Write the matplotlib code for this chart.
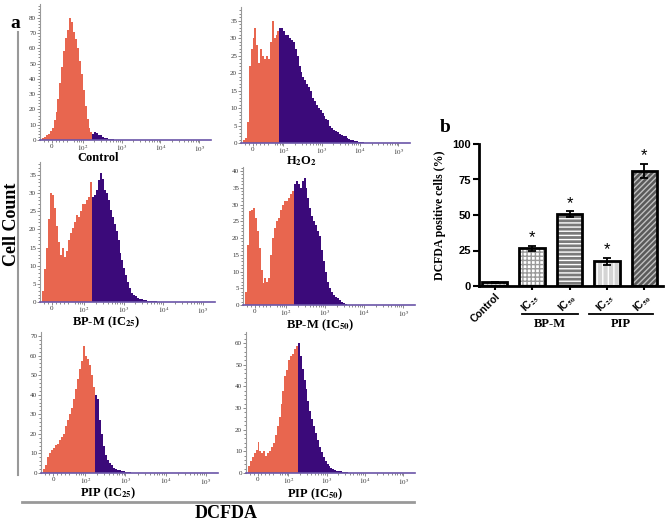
import numpy as np
import matplotlib.pyplot as plt

plt.rcParams['font.family'] = ['Liberation Serif', 'DejaVu Serif']
plt.rcParams['mathtext.fontset'] = 'stix'
plt.rcParams['hatch.linewidth'] = 1.0

# histogram counts, one value per bin; bins are 0.05 decade wide on the
# biexponential DCFDA axis, first bin starts 0.25 decade below zero
control = [1, 2, 3, 4, 6, 8, 13, 18, 27, 37, 48, 58, 67, 72, 80, 77, 71, 66,
           60, 52, 43, 33, 22, 14, 8, 5, 4, 5, 4.5, 3.5, 3, 2, 1.5, 1, 0.8,
           0.5, 0.4, 0.3, 0.3, 0.2, 0.2, 0.1]
h2o2 = [1, 1.5, 6, 22, 27, 30, 33, 28, 23, 27, 25, 24, 25, 24, 29, 35, 30, 31,
        32, 33, 33, 32, 31, 31, 30, 29.5, 29, 27, 25, 22, 20.5, 19, 18, 17,
        16, 15, 13, 12, 11, 10, 9.5, 8.5, 7.6, 7, 6.5, 5, 4.3, 3.8, 3.4, 3.2,
        2.6, 2.3, 2.1, 1.9, 1.5, 1.2, 1, 0.8, 0.6, 0.45, 0.35, 0.25, 0.15,
        0.1, 0.1]
bpm_ic25 = [3, 9, 15, 23, 30, 29.5, 26, 21, 16.5, 13, 15, 12.5, 14, 17, 19,
            20.5, 22, 24, 23.5, 25, 27, 27, 28, 29, 33, 29, 29.5, 31, 33.5,
            35.5, 34, 31, 30, 28, 25.5, 23.5, 21.5, 19.5, 17, 13.5, 11.5, 9.5,
            7.5, 5.5, 3.8, 2.6, 2, 1.6, 1.2, 0.9, 0.7, 0.6, 0.5, 0.4, 0.4,
            0.3, 0.2, 0.2]
bpm_ic50 = [4, 18, 28, 28.5, 29, 26, 22, 17, 10.5, 6.5, 8, 7, 8, 15, 20, 23,
            25, 26, 28.5, 30, 31, 31, 32, 33, 34, 36, 37, 36, 35, 37, 38, 35,
            32, 29, 26.5, 25, 24, 22, 20.5, 16.5, 13, 10, 7, 5, 4, 3, 2.5, 2,
            1.5, 1, 0.5, 0.2]
pip_ic25 = [2, 4, 8, 10, 12, 12.7, 14.4, 15, 17, 18.6, 20, 24, 27, 30, 33, 38,
            43, 48, 53, 57, 65, 60, 58, 55, 50, 44, 40, 38, 27, 20, 14, 9,
            6.8, 5, 4, 2.8, 2, 1.7, 1.3, 1.1, 0.8, 0.6, 0.4, 0.3, 0.2]
pip_ic50 = [3, 5.5, 7.5, 9, 10.5, 14.5, 10, 9.2, 10, 7.7, 9.2, 10, 12, 13.8,
            17.5, 21.5, 26, 32, 37.7, 44.6, 47.7, 52, 54, 55, 57, 58.5, 60, 54,
            48, 43, 38.5, 33, 28.5, 25, 21.5, 18.5, 15.4, 12, 9.8, 7.5, 5.5, 4,
            3.2, 2.3, 1.8, 1.5, 1.1, 0.9, 0.8, 0.6, 0.5, 0.3]

hist_counts = [control, h2o2, bpm_ic25, bpm_ic50, pip_ic25, pip_ic50]
hist_gates = [170, 83, 160, 160, 185, 185]
hist_titles = ['Control', r'H$_{\mathbf{2}}$O$_{\mathbf{2}}$',
               r'BP-M (IC$_{\mathbf{25}}$)', r'BP-M (IC$_{\mathbf{50}}$)',
               r'PIP (IC$_{\mathbf{25}}$)', r'PIP (IC$_{\mathbf{50}}$)']
hist_ymax = [89, 39, 38.6, 41.2, 72, 65]
hist_ystep = [10, 5, 5, 5, 10, 10]

# bar chart (b)
bar_labels = ['Control', r'IC$_{\mathbf{25}}$', r'IC$_{\mathbf{50}}$',
              r'IC$_{\mathbf{25}}$', r'IC$_{\mathbf{50}}$']
bar_values = [2.5, 26.5, 50.5, 17.5, 81]
bar_errors = [0.6, 1.5, 2.0, 2.5, 5.0]
bar_stars = [False, True, True, True, True]
groups = ['BP-M', 'PIP']

ORANGE = '#E8664F'
PURPLE = '#3B0A7A'
LINTHRESH = 50
W, H = 666, 523


def decade_to_value(t):
    # inverse of the symlog axis (linthresh 50, linear part = half a decade)
    t = np.asarray(t, float)
    lin = t * 2 * LINTHRESH
    log = np.sign(t) * LINTHRESH * 10 ** (np.abs(t) - 0.5)
    return np.where(np.abs(t) <= 0.5, lin, log)


fig = plt.figure(figsize=(W / 100, H / 100), dpi=100)


def px_axes(left, top, right, bottom):
    return fig.add_axes([left / W, 1 - bottom / H, (right - left) / W, (bottom - top) / H])


boxes = [(40, 4, 211, 140), (241, 7, 410, 143),
         (40, 162, 215, 302), (243, 167, 415, 305),
         (41, 332, 218, 473), (246, 332, 415, 473)]
title_pos = [(0.34, 18), (0.36, 18), (0.38, 20), (0.45, 20), (0.38, 20), (0.41, 21)]

minor_x = [-20, -10, 10, 20, 30, 40]
for n in range(1, 5):
    minor_x += [k * 10 ** n for k in range(2, 10) if k * 10 ** n > 50]

for i, counts in enumerate(hist_counts):
    ax = px_axes(*boxes[i])
    counts = np.array(counts, float)
    t_edges = -0.25 + 0.05 * np.arange(len(counts) + 1)
    edges = decade_to_value(t_edges)
    centers = decade_to_value((t_edges[:-1] + t_edges[1:]) / 2)
    k = int(np.sum(centers < hist_gates[i]))
    ax.stairs(counts[:k], edges[:k + 1], fill=True, color=ORANGE, lw=0)
    ax.stairs(counts[k:], edges[k:], fill=True, color=PURPLE, lw=0)

    ax.set_xscale('symlog', linthresh=LINTHRESH, linscale=0.45)
    ax.set_xlim(-30, 2e5)
    ax.set_ylim(0, hist_ymax[i])
    ax.set_xticks([0, 1e2, 1e3, 1e4, 1e5])
    ax.set_xticklabels(['0', '$10^2$', '$10^3$', '$10^4$', '$10^5$'])
    ax.set_xticks(minor_x, minor=True)
    st = hist_ystep[i]
    ax.set_yticks(np.arange(0, hist_ymax[i], st))
    ax.set_yticks(np.arange(0, hist_ymax[i], st / 5), minor=True)
    ax.tick_params(which='both', labelsize=5, width=0.6, color='#777',
                   labelcolor='#333', pad=0.8)
    ax.tick_params(which='major', length=2)
    ax.tick_params(which='minor', length=1.2)
    ax.spines['top'].set_visible(False)
    ax.spines['right'].set_visible(False)
    ax.spines['left'].set_color('#999')
    ax.spines['left'].set_linewidth(0.8)
    ax.spines['bottom'].set_color('#6b55a8')
    ax.spines['bottom'].set_linewidth(1.2)
    fx, dy = title_pos[i]
    ax.annotate(hist_titles[i], xy=(fx, 0), xycoords='axes fraction',
                xytext=(0, -dy * 0.72), textcoords='offset points',
                ha='center', va='center', fontsize=9, fontweight='bold')

# frame lines and labels of panel a
fig.add_artist(plt.Line2D([18 / W, 18 / W], [1 - 32 / H, 1 - 475 / H],
                          color='#999', lw=1.5))
fig.add_artist(plt.Line2D([22 / W, 414 / W], [1 - 502 / H, 1 - 502 / H],
                          color='#999', lw=2))
fig.text(15 / W, 1 - 23 / H, 'a', fontsize=14, fontweight='bold',
         ha='center', va='center')
fig.text(12 / W, 1 - 224 / H, 'Cell Count', fontsize=13, fontweight='bold',
         rotation=90, ha='center', va='center')
fig.text(226 / W, 1 - 514 / H, 'DCFDA', fontsize=13, fontweight='bold',
         ha='center', va='center')

# panel b
bx = px_axes(479, 144, 663, 286)
x = np.arange(len(bar_values))
faces = ['#cfcfcf', 'white', '#7a7a7a', '#d4d4d4', '#5a5a5a']
hatch_cols = ['#666666', '#9a9a9a', 'white', 'white', '#c0c0c0']
hatches = ['....', '++++', '----', '|||', '//////']
for xi, v, fc, hc, hs in zip(x, bar_values, faces, hatch_cols, hatches):
    bx.bar(xi, v, width=0.68, color=fc, edgecolor=hc, hatch=hs, lw=0)
bx.bar(x, bar_values, width=0.68, fill=False, edgecolor='black', lw=2)
bx.errorbar(x, bar_values, yerr=bar_errors, fmt='none', ecolor='black',
            elinewidth=1.3, capsize=3, capthick=1.3)
for xi, v, e, s in zip(x, bar_values, bar_errors, bar_stars):
    if s:
        bx.text(xi, v + e + 0.5, '*', ha='center', va='bottom', fontsize=12,
                family='Liberation Sans')

bx.set_xlim(-0.42, 4.5)
bx.set_ylim(0, 100)
bx.set_yticks([0, 25, 50, 75, 100])
bx.set_xticks(x)
bx.set_xticklabels(bar_labels, rotation=45, ha='right', va='top',
                   rotation_mode='anchor', family='Liberation Sans',
                   fontweight='bold', fontsize=7.5)
for lab in bx.get_yticklabels():
    lab.set_family('Liberation Sans')
    lab.set_fontweight('bold')
    lab.set_fontsize(8)
bx.tick_params(width=1.5, length=4, pad=2)
bx.tick_params(axis='x', length=3, pad=1)
bx.spines['top'].set_visible(False)
bx.spines['right'].set_visible(False)
bx.spines['left'].set_linewidth(2)
bx.spines['bottom'].set_linewidth(2)
bx.set_ylabel('DCFDA positive cells (%)', fontsize=8.5, fontweight='bold',
              labelpad=4)

for (x0, x1), name in zip([(0.72, 2.22), (2.51, 4.22)], groups):
    bx.plot([x0, x1], [-0.2, -0.2], color='black', lw=1.3,
            transform=bx.get_xaxis_transform(), clip_on=False)
    bx.text((x0 + x1) / 2, -0.265, name, transform=bx.get_xaxis_transform(),
            ha='center', va='center', fontsize=9, fontweight='bold')

fig.text(445 / W, 1 - 127 / H, 'b', fontsize=14, fontweight='bold',
         ha='center', va='center')

fig.savefig('out.png', dpi=100)
